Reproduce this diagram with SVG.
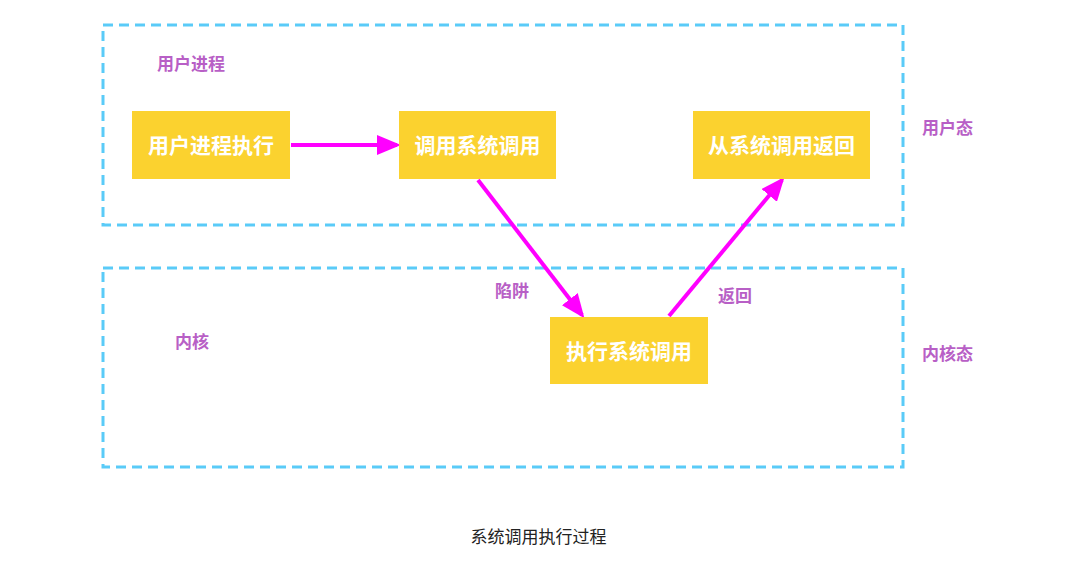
<svg xmlns="http://www.w3.org/2000/svg" width="1077" height="575" viewBox="0 0 1077 575">
<style>
.zone{fill:none;stroke:#5acbf8;stroke-width:3;stroke-dasharray:10,6}
.node{fill:#fbd22f}
.nt{fill:#fff;font-family:"Noto Sans CJK SC","Noto Sans",sans-serif;font-size:21px;font-weight:bold;text-anchor:middle;dominant-baseline:central}
.lb{fill:#b85fc6;font-family:"Noto Sans CJK SC","Noto Sans",sans-serif;font-size:17px;font-weight:bold;dominant-baseline:central}
.cap{fill:#222;font-family:"Noto Sans CJK SC","Noto Sans",sans-serif;font-size:17px;text-anchor:middle;dominant-baseline:central}
.edge{stroke:#ff00ff;stroke-width:4;fill:none;marker-end:url(#ah)}
</style>
<defs>
<marker id="ah" markerWidth="6" markerHeight="5" refX="5" refY="2.5" orient="auto" markerUnits="strokeWidth">
<path d="M0,0 L6,2.5 L0,5 z" fill="#ff00ff"/>
</marker>
</defs>
<rect width="1077" height="575" fill="#fff"/>
<g id="zones">
<rect class="zone" x="103" y="25" width="800" height="200"/>
<rect class="zone" x="103" y="268" width="800" height="199"/>
</g>
<g id="labels">
<text class="lb" x="157" y="62">用户进程</text>
<text class="lb" x="922" y="126">用户态</text>
<text class="lb" x="175" y="340">内核</text>
<text class="lb" x="922" y="352">内核态</text>
<text class="lb" x="495" y="289">陷阱</text>
<text class="lb" x="718" y="294">返回</text>
</g>
<g id="connectors">
<line class="edge" x1="291" y1="145" x2="397" y2="145"/>
<line class="edge" x1="478" y1="180" x2="582" y2="315"/>
<line class="edge" x1="669" y1="316" x2="782" y2="180"/>
</g>
<g id="n1"><rect class="node" x="132" y="111" width="158" height="68"/><text class="nt" x="211" y="144">用户进程执行</text></g>
<g id="n2"><rect class="node" x="399" y="111" width="157" height="68"/><text class="nt" x="477.5" y="144">调用系统调用</text></g>
<g id="n3"><rect class="node" x="693" y="111" width="177" height="68"/><text class="nt" x="781.5" y="144">从系统调用返回</text></g>
<g id="n4"><rect class="node" x="550" y="317" width="158" height="67"/><text class="nt" x="629" y="350">执行系统调用</text></g>
<g id="caption"><text class="cap" x="538.5" y="535">系统调用执行过程</text></g>
</svg>
